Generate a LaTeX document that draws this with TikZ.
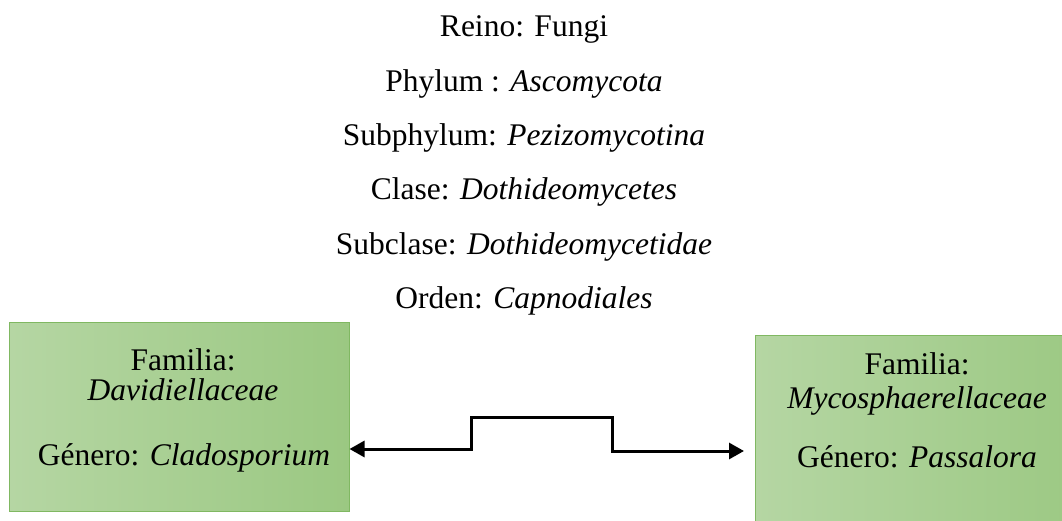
\documentclass[tikz,border=0pt]{standalone}
\usepackage{fontspec}
\setmainfont{Liberation Serif}
\usepackage{xcolor}
\usepackage{tikz}
\usetikzlibrary{arrows.meta}
\definecolor{boxleft}{RGB}{181,214,163}
\definecolor{boxright}{RGB}{155,200,130}
\definecolor{boxline}{RGB}{128,184,98}
\tikzset{
  lbl/.style={font=\fontsize{31.5}{36}\selectfont, anchor=base, inner sep=0pt},
  fambox/.style={draw=boxline, line width=1pt, left color=boxleft, right color=boxright, inner sep=0pt},
  link/.style={draw=black, line width=3pt, {Triangle[length=15pt,width=16pt]}-{Triangle[length=15pt,width=16pt]}}
}
\begin{document}
\begin{tikzpicture}[x=1pt, y=-1pt]
  \useasboundingbox (0,0) rectangle (1062,521);
  \clip (0,0) rectangle (1062,521);

  \node[lbl] (reino) at (524,37) {Reino: Fungi};
  \node[lbl] (phylum) at (524,91.5) {Phylum : \textit{Ascomycota}};
  \node[lbl] (subphylum) at (524,146) {Subphylum: \textit{Pezizomycotina}};
  \node[lbl] (clase) at (524,200) {Clase: \textit{Dothideomycetes}};
  \node[lbl] (subclase) at (524,254.5) {Subclase: \textit{Dothideomycetidae}};
  \node[lbl] (orden) at (524,308.5) {Orden: \textit{Capnodiales}};

  \node[fambox, minimum width=340pt, minimum height=189pt] (famL) at (179,416.5) {};
  \node[fambox, minimum width=340pt, minimum height=220pt] (famR) at (925,445) {};

  \node[lbl] (famLa) at (183,370) {Familia:};
  \node[lbl] (famLb) at (183,400) {\textit{Davidiellaceae}};
  \node[lbl] (genL) at (184,465) {Género: \textit{Cladosporium}};

  \node[lbl] (famRa) at (917,374) {Familia:};
  \node[lbl] (famRb) at (917,408) {\textit{Mycosphaerellaceae}};
  \node[lbl] (genR) at (917,467) {Género: \textit{Passalora}};

  \coordinate (tipL) at (famL.east |- 0,449);
  \coordinate (tipR) at (744,451);
  \draw[link] (tipL) -- (471,449) -- (471,417) -- (612,417) -- (612,451) -- (tipR);
\end{tikzpicture}
\end{document}
